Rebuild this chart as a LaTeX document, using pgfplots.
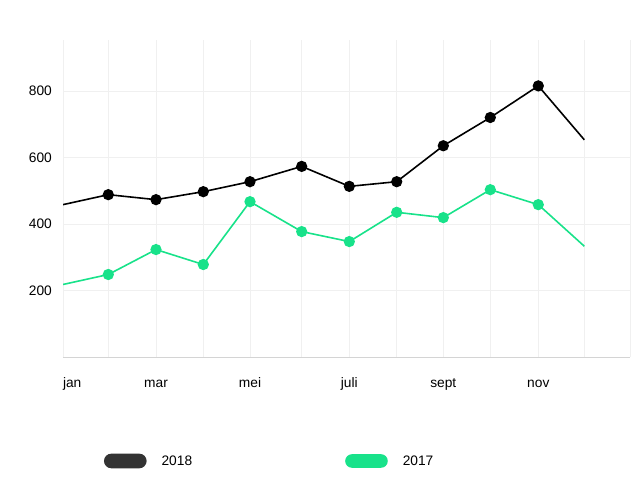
\documentclass[border=0pt]{standalone}
\usepackage{pgfplots}
\pgfplotsset{compat=1.18}
\usepackage{fontspec}
\setmainfont{Liberation Sans}
\definecolor{grn}{RGB}{24,226,138}
\definecolor{dk}{RGB}{51,51,51}
\definecolor{gridc}{RGB}{240,240,240}
\definecolor{axc}{RGB}{212,212,212}
\begin{document}
\begin{tikzpicture}
\path[use as bounding box] (0,0) rectangle (631bp,494bp);
\begin{axis}[
  at={(63bp,137bp)}, anchor=south west,
  scale only axis, width=567bp, height=317bp,
  xmin=0, xmax=567, ymin=0, ymax=953,
  xtick={0,45.3,93,140.3,187,238.7,286.3,333.7,380.3,427.3,475.3,521.3,567},
  xticklabels={\makebox[0pt][l]{jan},,mar,,mei,,juli,,sept,,nov,,},
  ytick={200,400,600,800},
  major tick length=0pt,
  grid=major, grid style={gridc, line width=0.6bp},
  axis lines=left,
  axis line style={-},
  x axis line style={axc, line width=0.8bp},
  y axis line style={draw=none},
  font=\fontsize{13.8}{16}\selectfont,
  /pgf/number format/assume math mode=true,
  xticklabel style={anchor=base, yshift=-31bp},
  yticklabel style={xshift=-7.6bp},
  legend columns=2,
  legend style={at={(0.0723,-0.328)}, anchor=west, draw=none, fill=none,
    inner sep=0pt, outer sep=0pt, nodes={inner sep=0pt},
    font=\fontsize{13.8}{16}\selectfont,
    /tikz/every odd column/.append style={column sep=15bp},
    /tikz/every even column/.append style={column sep=153bp}},
]
\addplot[black, line width=1.6bp, mark=*, mark size=4.8bp, mark indices={2,...,11},
  mark options={solid, fill=black, draw=black},
  legend image code/.code={\fill[dk, rounded corners=6.5bp] (0bp,-6.5bp) rectangle (41bp,6.5bp);}]
coordinates {(0,458) (45.3,488) (93,473) (140.3,497) (187,527) (238.7,573) (286.3,513) (333.7,527) (380.3,635) (427.3,720) (475.3,815) (521.3,653)};
\addlegendentry{2018}
\addplot[grn, line width=1.6bp, mark=*, mark size=4.8bp, mark indices={2,...,11},
  mark options={solid, fill=grn, draw=grn},
  legend image code/.code={\fill[grn, rounded corners=6bp] (0bp,-6bp) rectangle (41bp,6bp);}]
coordinates {(0,218) (45.3,248) (93,323) (140.3,278) (187,467) (238.7,377) (286.3,347) (333.7,435) (380.3,419) (427.3,503) (475.3,458) (521.3,333)};
\addlegendentry{2017}
\end{axis}
\end{tikzpicture}
\end{document}
